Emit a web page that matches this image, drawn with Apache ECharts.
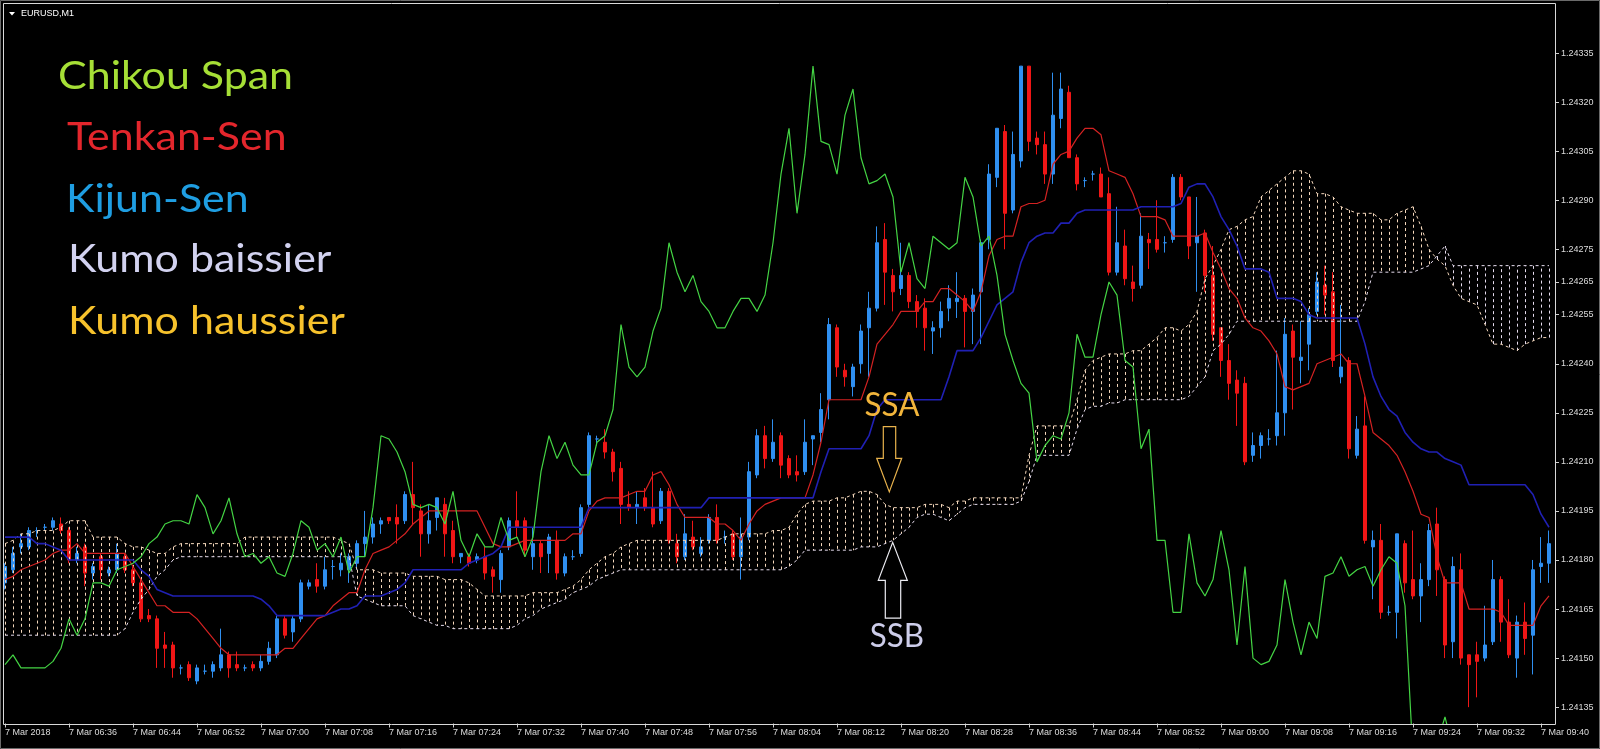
<!DOCTYPE html>
<html>
<head>
<meta charset="utf-8">
<title>EURUSD,M1 Ichimoku</title>
<script src="https://cdn.jsdelivr.net/npm/echarts@6.0.0/dist/echarts.min.js"></script>
<style>
html,body{margin:0;padding:0;background:#000;overflow:hidden}
#chart{width:1600px;height:749px}
</style>
</head>
<body>
<div id="chart"></div>
<script>
// M1 bars of 7 Mar 2018, starting 06:28
const times = [];
for (let k = 0, m = 6 * 60 + 28; k < 194; k++, m++) {
  times.push(String(Math.floor(m / 60)).padStart(2, '0') + ':' + String(m % 60).padStart(2, '0'));
}

const open = [
1.24173,1.24177,1.24184,1.24184,1.24189,1.24190,1.24190,1.24191,1.24189,1.24180,
1.24184,1.24176,1.24181,1.24176,1.24177,1.24181,1.24177,1.24173,1.24163,1.24162,
1.24154,1.24154,1.24147,1.24148,1.24143,1.24146,1.24146,1.24147,1.24151,1.24148,
1.24147,1.24148,1.24147,1.24149,1.24151,1.24162,1.24158,1.24162,1.24172,1.24174,
1.24172,1.24178,1.24177,1.24177,1.24179,1.24185,1.24187,1.24191,1.24193,1.24193,
1.24192,1.24200,1.24195,1.24188,1.24193,1.24197,1.24189,1.24181,1.24181,1.24180,
1.24181,1.24177,1.24174,1.24184,1.24192,1.24192,1.24181,1.24185,1.24182,1.24186,
1.24176,1.24181,1.24182,1.24197,1.24217,1.24216,1.24213,1.24208,1.24197,1.24196,
1.24199,1.24196,1.24192,1.24201,1.24185,1.24181,1.24187,1.24182,1.24186,1.24193,
1.24187,1.24188,1.24181,1.24187,1.24206,1.24218,1.24211,1.24218,1.24211,1.24207,
1.24207,1.24217,1.24219,1.24229,1.24251,1.24238,1.24233,1.24240,1.24251,1.24257,
1.24278,1.24267,1.24263,1.24267,1.24259,1.24257,1.24250,1.24251,1.24257,1.24259,
1.24260,1.24256,1.24262,1.24278,1.24297,1.24311,1.24287,1.24302,1.24331,1.24309,
1.24307,1.24298,1.24315,1.24323,1.24303,1.24296,1.24298,1.24298,1.24292,1.24268,
1.24276,1.24265,1.24264,1.24278,1.24278,1.24277,1.24278,1.24297,1.24291,1.24277,
1.24280,1.24267,1.24251,1.24241,1.24235,1.24234,1.24212,1.24215,1.24217,1.24218,
1.24225,1.24250,1.24241,1.24246,1.24256,1.24264,1.24262,1.24236,1.24241,1.24212,
1.24221,1.24184,1.24186,1.24164,1.24164,1.24185,1.24174,1.24169,1.24174,1.24191,
1.24174,1.24155,1.24177,1.24151,1.24151,1.24150,1.24155,1.24174,1.24161,1.24150,
1.24161,1.24157,1.24178,1.24179];

const close = [
1.24178,1.24182,1.24185,1.24189,1.24189,1.24190,1.24192,1.24189,1.24180,1.24182,
1.24176,1.24178,1.24177,1.24177,1.24182,1.24177,1.24173,1.24162,1.24162,1.24153,
1.24153,1.24147,1.24147,1.24144,1.24147,1.24146,1.24148,1.24151,1.24147,1.24147,
1.24147,1.24147,1.24149,1.24153,1.24162,1.24157,1.24162,1.24173,1.24173,1.24172,
1.24177,1.24178,1.24179,1.24181,1.24185,1.24187,1.24191,1.24192,1.24192,1.24191,
1.24200,1.24196,1.24188,1.24192,1.24199,1.24188,1.24181,1.24182,1.24179,1.24181,
1.24176,1.24175,1.24182,1.24192,1.24190,1.24183,1.24185,1.24181,1.24187,1.24176,
1.24181,1.24181,1.24196,1.24218,1.24217,1.24213,1.24207,1.24197,1.24196,1.24197,
1.24196,1.24191,1.24201,1.24186,1.24181,1.24188,1.24184,1.24184,1.24193,1.24186,
1.24187,1.24181,1.24187,1.24207,1.24218,1.24211,1.24216,1.24209,1.24206,1.24206,
1.24216,1.24218,1.24226,1.24252,1.24239,1.24236,1.24239,1.24250,1.24257,1.24277,
1.24268,1.24262,1.24267,1.24259,1.24256,1.24251,1.24251,1.24256,1.24260,1.24260,
1.24256,1.24261,1.24277,1.24298,1.24312,1.24286,1.24304,1.24331,1.24308,1.24307,
1.24298,1.24316,1.24324,1.24303,1.24295,1.24296,1.24298,1.24291,1.24268,1.24277,
1.24266,1.24263,1.24279,1.24277,1.24275,1.24277,1.24297,1.24291,1.24276,1.24279,
1.24267,1.24249,1.24241,1.24234,1.24231,1.24210,1.24215,1.24218,1.24217,1.24225,
1.24249,1.24242,1.24242,1.24255,1.24265,1.24261,1.24241,1.24239,1.24214,1.24220,
1.24186,1.24186,1.24164,1.24164,1.24188,1.24173,1.24169,1.24174,1.24189,1.24177,
1.24154,1.24178,1.24150,1.24148,1.24149,1.24154,1.24174,1.24161,1.24151,1.24161,
1.24156,1.24177,1.24179,1.24185];

const low = [
1.24171,1.24176,1.24182,1.24183,1.24187,1.24189,1.24189,1.24188,1.24179,1.24179,
1.24172,1.24174,1.24174,1.24175,1.24176,1.24176,1.24172,1.24161,1.24161,1.24147,
1.24147,1.24144,1.24145,1.24143,1.24142,1.24145,1.24144,1.24146,1.24144,1.24146,
1.24146,1.24146,1.24146,1.24148,1.24150,1.24156,1.24155,1.24161,1.24171,1.24170,
1.24171,1.24174,1.24175,1.24173,1.24177,1.24181,1.24185,1.24188,1.24191,1.24185,
1.24191,1.24191,1.24181,1.24185,1.24189,1.24181,1.24179,1.24179,1.24178,1.24179,
1.24174,1.24170,1.24170,1.24183,1.24187,1.24181,1.24177,1.24176,1.24176,1.24174,
1.24175,1.24180,1.24181,1.24196,1.24215,1.24211,1.24204,1.24191,1.24195,1.24191,
1.24195,1.24190,1.24191,1.24185,1.24179,1.24180,1.24183,1.24181,1.24185,1.24185,
1.24185,1.24180,1.24174,1.24186,1.24205,1.24208,1.24210,1.24205,1.24205,1.24204,
1.24206,1.24209,1.24216,1.24223,1.24236,1.24233,1.24230,1.24237,1.24236,1.24256,
1.24258,1.24256,1.24261,1.24257,1.24251,1.24244,1.24243,1.24248,1.24253,1.24254,
1.24245,1.24246,1.24246,1.24275,1.24294,1.24275,1.24286,1.24300,1.24305,1.24304,
1.24295,1.24295,1.24312,1.24303,1.24293,1.24294,1.24296,1.24291,1.24267,1.24267,
1.24264,1.24259,1.24263,1.24269,1.24274,1.24274,1.24277,1.24290,1.24272,1.24262,
1.24262,1.24247,1.24236,1.24229,1.24221,1.24209,1.24210,1.24211,1.24215,1.24215,
1.24218,1.24226,1.24234,1.24238,1.24255,1.24255,1.24239,1.24234,1.24211,1.24211,
1.24185,1.24168,1.24162,1.24163,1.24156,1.24170,1.24168,1.24161,1.24172,1.24169,
1.24150,1.24150,1.24148,1.24135,1.24138,1.24149,1.24154,1.24155,1.24150,1.24144,
1.24151,1.24145,1.24173,1.24173];

const high = [
1.24179,1.24184,1.24188,1.24190,1.24190,1.24191,1.24193,1.24193,1.24190,1.24184,
1.24185,1.24179,1.24182,1.24178,1.24185,1.24182,1.24178,1.24174,1.24165,1.24163,
1.24158,1.24155,1.24148,1.24149,1.24148,1.24148,1.24149,1.24159,1.24152,1.24152,
1.24148,1.24149,1.24151,1.24155,1.24163,1.24163,1.24163,1.24174,1.24174,1.24179,
1.24181,1.24180,1.24182,1.24182,1.24186,1.24195,1.24193,1.24193,1.24193,1.24197,
1.24201,1.24210,1.24197,1.24197,1.24199,1.24199,1.24192,1.24182,1.24182,1.24182,
1.24184,1.24178,1.24183,1.24193,1.24201,1.24193,1.24190,1.24186,1.24188,1.24189,
1.24182,1.24183,1.24197,1.24219,1.24218,1.24220,1.24214,1.24210,1.24201,1.24201,
1.24202,1.24207,1.24202,1.24202,1.24188,1.24194,1.24192,1.24187,1.24194,1.24197,
1.24189,1.24189,1.24193,1.24210,1.24220,1.24221,1.24223,1.24219,1.24212,1.24212,
1.24223,1.24218,1.24231,1.24254,1.24252,1.24240,1.24240,1.24252,1.24262,1.24282,
1.24283,1.24269,1.24277,1.24268,1.24261,1.24260,1.24253,1.24259,1.24264,1.24268,
1.24261,1.24263,1.24278,1.24301,1.24312,1.24313,1.24311,1.24331,1.24331,1.24311,
1.24311,1.24329,1.24329,1.24325,1.24304,1.24297,1.24299,1.24300,1.24297,1.24288,
1.24281,1.24270,1.24286,1.24280,1.24290,1.24279,1.24298,1.24298,1.24291,1.24291,
1.24281,1.24276,1.24251,1.24246,1.24238,1.24236,1.24219,1.24219,1.24220,1.24244,
1.24254,1.24252,1.24253,1.24257,1.24268,1.24270,1.24268,1.24258,1.24242,1.24224,
1.24230,1.24189,1.24191,1.24166,1.24188,1.24186,1.24189,1.24179,1.24191,1.24196,
1.24175,1.24181,1.24182,1.24151,1.24155,1.24166,1.24180,1.24175,1.24168,1.24163,
1.24167,1.24180,1.24187,1.24189];

const tenkan = [
1.24174,1.24175,1.24177,1.24178,1.24179,1.24180,1.24182,1.24183,1.24183,1.24185,
1.24182,1.24182,1.24182,1.24182,1.24182,1.24182,1.24178,1.24174,1.24170,1.24166,
1.24166,1.24164,1.24164,1.24164,1.24162,1.24159,1.24156,1.24153,1.24151,1.24151,
1.24151,1.24151,1.24151,1.24151,1.24151,1.24153,1.24153,1.24156,1.24159,1.24162,
1.24163,1.24166,1.24168,1.24170,1.24170,1.24177,1.24182,1.24183,1.24184,1.24186,
1.24188,1.24191,1.24193,1.24195,1.24195,1.24195,1.24195,1.24195,1.24195,1.24195,
1.24190,1.24185,1.24184,1.24184,1.24185,1.24186,1.24186,1.24186,1.24186,1.24186,
1.24186,1.24188,1.24188,1.24195,1.24198,1.24199,1.24199,1.24199,1.24200,1.24201,
1.24201,1.24206,1.24207,1.24203,1.24197,1.24193,1.24193,1.24193,1.24193,1.24191,
1.24191,1.24189,1.24186,1.24191,1.24195,1.24197,1.24198,1.24199,1.24199,1.24199,
1.24199,1.24206,1.24216,1.24229,1.24229,1.24229,1.24229,1.24229,1.24236,1.24246,
1.24249,1.24252,1.24256,1.24256,1.24256,1.24259,1.24259,1.24263,1.24263,1.24261,
1.24259,1.24256,1.24262,1.24273,1.24278,1.24279,1.24279,1.24288,1.24289,1.24289,
1.24290,1.24301,1.24304,1.24305,1.24309,1.24312,1.24312,1.24310,1.24299,1.24298,
1.24297,1.24292,1.24285,1.24285,1.24285,1.24284,1.24279,1.24279,1.24279,1.24279,
1.24280,1.24274,1.24269,1.24263,1.24260,1.24254,1.24251,1.24250,1.24247,1.24243,
1.24233,1.24232,1.24233,1.24234,1.24240,1.24241,1.24242,1.24243,1.24240,1.24240,
1.24230,1.24219,1.24217,1.24215,1.24212,1.24207,1.24201,1.24194,1.24193,1.24181,
1.24173,1.24173,1.24173,1.24165,1.24165,1.24165,1.24165,1.24164,1.24160,1.24160,
1.24160,1.24160,1.24166,1.24169];

const kijun = [
1.24187,1.24187,1.24187,1.24187,1.24185,1.24185,1.24184,1.24183,1.24180,1.24180,
1.24180,1.24180,1.24180,1.24180,1.24180,1.24180,1.24180,1.24177,1.24175,1.24171,
1.24170,1.24169,1.24169,1.24169,1.24169,1.24169,1.24169,1.24169,1.24169,1.24169,
1.24169,1.24169,1.24168,1.24166,1.24163,1.24163,1.24163,1.24163,1.24163,1.24163,
1.24163,1.24164,1.24165,1.24165,1.24166,1.24169,1.24169,1.24169,1.24170,1.24171,
1.24173,1.24177,1.24177,1.24177,1.24177,1.24177,1.24177,1.24177,1.24179,1.24180,
1.24181,1.24182,1.24184,1.24190,1.24190,1.24190,1.24190,1.24190,1.24190,1.24190,
1.24190,1.24190,1.24190,1.24196,1.24196,1.24196,1.24196,1.24196,1.24196,1.24196,
1.24196,1.24196,1.24196,1.24196,1.24196,1.24196,1.24196,1.24196,1.24199,1.24199,
1.24199,1.24199,1.24199,1.24199,1.24199,1.24199,1.24199,1.24199,1.24199,1.24199,
1.24199,1.24199,1.24207,1.24214,1.24214,1.24214,1.24214,1.24214,1.24218,1.24226,
1.24229,1.24229,1.24229,1.24229,1.24229,1.24229,1.24229,1.24229,1.24236,1.24244,
1.24244,1.24244,1.24248,1.24253,1.24258,1.24260,1.24262,1.24271,1.24277,1.24279,
1.24280,1.24280,1.24283,1.24283,1.24286,1.24287,1.24287,1.24287,1.24287,1.24287,
1.24287,1.24287,1.24288,1.24288,1.24288,1.24288,1.24288,1.24289,1.24294,1.24295,
1.24295,1.24291,1.24285,1.24281,1.24276,1.24269,1.24269,1.24269,1.24268,1.24260,
1.24260,1.24260,1.24259,1.24255,1.24254,1.24254,1.24254,1.24254,1.24254,1.24254,
1.24246,1.24236,1.24230,1.24226,1.24224,1.24219,1.24216,1.24214,1.24213,1.24213,
1.24211,1.24210,1.24209,1.24203,1.24203,1.24203,1.24203,1.24203,1.24203,1.24203,
1.24203,1.24200,1.24194,1.24190];

const chikou = [
1.24148,1.24151,1.24147,1.24147,1.24147,1.24147,1.24149,1.24153,1.24162,1.24157,
1.24162,1.24173,1.24173,1.24172,1.24177,1.24178,1.24179,1.24181,1.24185,1.24187,
1.24191,1.24192,1.24192,1.24191,1.24200,1.24196,1.24188,1.24192,1.24199,1.24188,
1.24181,1.24182,1.24179,1.24181,1.24176,1.24175,1.24182,1.24192,1.24190,1.24183,
1.24185,1.24181,1.24187,1.24176,1.24181,1.24181,1.24196,1.24218,1.24217,1.24213,
1.24207,1.24197,1.24196,1.24197,1.24196,1.24191,1.24201,1.24186,1.24181,1.24188,
1.24184,1.24184,1.24193,1.24186,1.24187,1.24181,1.24187,1.24207,1.24218,1.24211,
1.24216,1.24209,1.24206,1.24206,1.24216,1.24218,1.24226,1.24252,1.24239,1.24236,
1.24239,1.24250,1.24257,1.24277,1.24268,1.24262,1.24267,1.24259,1.24256,1.24251,
1.24251,1.24256,1.24260,1.24260,1.24256,1.24261,1.24277,1.24298,1.24312,1.24286,
1.24304,1.24331,1.24308,1.24307,1.24298,1.24316,1.24324,1.24303,1.24295,1.24296,
1.24298,1.24291,1.24268,1.24277,1.24266,1.24263,1.24279,1.24277,1.24275,1.24277,
1.24297,1.24291,1.24276,1.24279,1.24267,1.24249,1.24241,1.24234,1.24231,1.24210,
1.24215,1.24218,1.24217,1.24225,1.24249,1.24242,1.24242,1.24255,1.24265,1.24261,
1.24241,1.24239,1.24214,1.24220,1.24186,1.24186,1.24164,1.24164,1.24188,1.24173,
1.24169,1.24174,1.24189,1.24177,1.24154,1.24178,1.24150,1.24148,1.24149,1.24154,
1.24174,1.24161,1.24151,1.24161,1.24156,1.24175,1.24176,1.24181,1.24175,1.24177,
1.24178,1.24172,1.24177,1.24181,1.24179,1.24166,1.24120,1.24115,1.24118,1.24124,
1.24132,1.24122,1.24118];

const ssa = [
1.24185,1.24186,1.24188,1.24188,1.24189,1.24189,1.24189,1.24190,1.24192,1.24192,
1.24192,1.24187,1.24187,1.24187,1.24187,1.24185,1.24184,1.24184,1.24183,1.24182,
1.24182,1.24184,1.24185,1.24185,1.24185,1.24185,1.24185,1.24185,1.24185,1.24185,
1.24187,1.24187,1.24187,1.24187,1.24187,1.24187,1.24187,1.24187,1.24187,1.24187,
1.24187,1.24187,1.24186,1.24185,1.24177,1.24177,1.24177,1.24176,1.24176,1.24176,
1.24176,1.24175,1.24175,1.24175,1.24175,1.24174,1.24174,1.24174,1.24173,1.24171,
1.24169,1.24169,1.24169,1.24169,1.24169,1.24169,1.24170,1.24170,1.24170,1.24170,
1.24171,1.24172,1.24174,1.24177,1.24179,1.24181,1.24182,1.24184,1.24185,1.24186,
1.24186,1.24186,1.24186,1.24186,1.24186,1.24186,1.24186,1.24186,1.24186,1.24186,
1.24187,1.24188,1.24188,1.24188,1.24188,1.24188,1.24189,1.24189,1.24190,1.24194,
1.24197,1.24198,1.24198,1.24198,1.24199,1.24199,1.24200,1.24201,1.24201,1.24200,
1.24197,1.24196,1.24196,1.24196,1.24196,1.24197,1.24197,1.24197,1.24196,1.24198,
1.24198,1.24199,1.24199,1.24199,1.24199,1.24199,1.24199,1.24199,1.24212,1.24221,
1.24221,1.24221,1.24221,1.24221,1.24229,1.24238,1.24241,1.24242,1.24243,1.24243,
1.24243,1.24244,1.24244,1.24246,1.24248,1.24251,1.24251,1.24250,1.24252,1.24256,
1.24266,1.24270,1.24275,1.24281,1.24282,1.24284,1.24285,1.24291,1.24293,1.24295,
1.24297,1.24299,1.24299,1.24298,1.24292,1.24292,1.24291,1.24288,1.24287,1.24286,
1.24286,1.24286,1.24284,1.24284,1.24286,1.24287,1.24288,1.24282,1.24275,1.24272,
1.24270,1.24264,1.24260,1.24259,1.24258,1.24252,1.24246,1.24246,1.24245,1.24244,
1.24246,1.24247,1.24248,1.24248];

const ssb = [
1.24157,1.24157,1.24157,1.24157,1.24157,1.24157,1.24157,1.24157,1.24157,1.24157,
1.24157,1.24157,1.24157,1.24157,1.24157,1.24159,1.24164,1.24168,1.24171,1.24175,
1.24177,1.24180,1.24181,1.24181,1.24181,1.24181,1.24181,1.24181,1.24181,1.24181,
1.24181,1.24181,1.24181,1.24181,1.24181,1.24181,1.24181,1.24181,1.24181,1.24181,
1.24181,1.24181,1.24181,1.24181,1.24169,1.24168,1.24167,1.24166,1.24166,1.24166,
1.24166,1.24163,1.24162,1.24161,1.24160,1.24160,1.24159,1.24159,1.24159,1.24159,
1.24159,1.24159,1.24159,1.24159,1.24160,1.24162,1.24163,1.24165,1.24166,1.24167,
1.24168,1.24170,1.24171,1.24172,1.24174,1.24175,1.24176,1.24177,1.24177,1.24177,
1.24177,1.24177,1.24177,1.24177,1.24177,1.24177,1.24177,1.24177,1.24177,1.24177,
1.24177,1.24177,1.24177,1.24177,1.24177,1.24177,1.24177,1.24177,1.24178,1.24180,
1.24183,1.24183,1.24183,1.24183,1.24183,1.24183,1.24183,1.24184,1.24184,1.24184,
1.24185,1.24186,1.24188,1.24190,1.24193,1.24194,1.24194,1.24193,1.24192,1.24194,
1.24196,1.24197,1.24197,1.24197,1.24197,1.24197,1.24197,1.24198,1.24204,1.24212,
1.24212,1.24212,1.24212,1.24212,1.24220,1.24226,1.24227,1.24227,1.24228,1.24228,
1.24229,1.24229,1.24229,1.24229,1.24229,1.24229,1.24229,1.24229,1.24230,1.24233,
1.24236,1.24244,1.24246,1.24249,1.24253,1.24253,1.24253,1.24253,1.24253,1.24253,
1.24253,1.24253,1.24253,1.24253,1.24253,1.24253,1.24253,1.24253,1.24253,1.24253,
1.24259,1.24268,1.24268,1.24268,1.24268,1.24268,1.24268,1.24269,1.24270,1.24273,
1.24276,1.24270,1.24270,1.24270,1.24270,1.24270,1.24270,1.24270,1.24270,1.24270,
1.24270,1.24270,1.24270,1.24270];

const priceTicks = [1.24335,1.24320,1.24305,1.24290,1.24275,1.24265,1.24255,1.24240,1.24225,1.24210,1.24195,1.24180,1.24165,1.24150,1.24135];
const legendNames = ['Chikou Span','Tenkan-Sen','Kijun-Sen','Kumo baissier','Kumo haussier'];
const legendColors = ['#a6df36','#e3262c','#1f9ee2','#d2d2f0','#f7c22c'];

const BULL = '#2f8ff0', BEAR = '#f01616';
const SANDY = '#f5d8bc', THISTLE = '#e6dcee';

const candles = open.map((o, i) => [o, close[i], low[i], high[i]]);
const kumo = ssa.map((a, i) => [i, a, ssb[i]]);

const legendX = [58, 67, 66, 68, 68];
const legendY = [77, 138, 200, 260, 322];
const graphics = [
  {type:'rect', shape:{x:0.5, y:0.5, width:1599, height:748}, style:{fill:null, stroke:'#6a6a6a', lineWidth:1}, silent:true, z:100},
  {type:'rect', shape:{x:3.5, y:3.5, width:1552, height:721}, style:{fill:null, stroke:'#d8d8d8', lineWidth:1}, silent:true, z:100},
  {type:'polygon', shape:{points:[[9,12],[15,12],[12,15.5]]}, style:{fill:'#ffffff'}, silent:true, z:100},
  {type:'text', x:21, y:14, style:{text:'EURUSD,M1', fill:'#ffffff', fontSize:9, fontFamily:'Liberation Sans', verticalAlign:'middle'}, silent:true, z:100},
  {type:'text', x:892, y:405, scaleX:0.95, style:{text:'SSA', fill:'#f2b53b', fontSize:33, fontFamily:'Lato', align:'center', verticalAlign:'middle'}, silent:true, z:100},
  {type:'text', x:897, y:636, scaleX:0.95, style:{text:'SSB', fill:'#cdcdea', fontSize:33, fontFamily:'Lato', align:'center', verticalAlign:'middle'}, silent:true, z:100},
  {type:'polygon', shape:{points:[[883.3,426.7],[895.7,426.7],[895.7,458.3],[901.7,458.3],[889.3,491.9],[876.7,458.3],[883.3,458.3]]},
    style:{fill:null, stroke:'#e8b24c', lineWidth:1.2}, silent:true, z:100},
  {type:'polygon', shape:{points:[[892.7,542.4],[907.3,580.3],[900.7,580.3],[900.7,618.2],[885.3,618.2],[885.3,580.3],[878.3,580.3]]},
    style:{fill:null, stroke:'#ececf2', lineWidth:1.2}, silent:true, z:100}
];
legendNames.forEach((t, k) => {
  graphics.push({type:'text', x:legendX[k], y:legendY[k], scaleX:1.13,
    style:{text:t, fill:legendColors[k], fontSize:38, fontFamily:'Lato', verticalAlign:'middle'}, silent:true, z:100});
});

const chart = echarts.init(document.getElementById('chart'), null, {renderer:'canvas'});
chart.setOption({
  backgroundColor:'#000000',
  animation:false,
  grid:{left:1, top:4, width:1552, height:719.5, show:false},
  xAxis:{
    type:'category', data:times, boundaryGap:true,
    axisLine:{show:false},
    axisTick:{show:true, interval:7, alignWithLabel:true, length:4, lineStyle:{color:'#cfcfcf'}},
    axisLabel:{interval:7, color:'#dcdcdc', fontSize:9, fontFamily:'Liberation Sans', align:'left', margin:5,
      formatter:(v, i) => i === 0 ? '7 Mar 2018' : '7 Mar ' + v},
    splitLine:{show:false}
  },
  yAxis:{
    type:'value', position:'right', min:1.2413, max:1.2435, offset:2,
    axisLine:{show:false}, splitLine:{show:false},
    axisTick:{show:true, length:4, customValues:priceTicks, lineStyle:{color:'#cfcfcf'}},
    axisLabel:{customValues:priceTicks, color:'#dcdcdc', fontSize:9, fontFamily:'Liberation Sans', margin:6,
      formatter:v => v.toFixed(5)}
  },
  series:[
    {type:'candlestick', name:'EURUSD', data:candles, barWidth:4, z:2,
      itemStyle:{color:BULL, color0:BEAR, borderColor:BULL, borderColor0:BEAR, borderColorDoji:BULL, borderWidth:1}},
    {type:'custom', name:'Kumo', data:kumo, z:3, silent:true, encode:{x:0, y:[1,2]},
      renderItem:(params, api) => {
        const i = api.value(0), a = api.value(1), b = api.value(2);
        const p1 = api.coord([i, a]), p2 = api.coord([i, b]);
        const x = Math.round(p1[0]) + 0.5;
        return {type:'line', shape:{x1:x, y1:p1[1], x2:x, y2:p2[1]},
          style:{stroke: a >= b ? SANDY : THISTLE, lineWidth:1, lineDash:[3,3]}};
      }},
    {type:'line', name:'Senkou Span A', data:ssa, symbol:'none', z:4, silent:true,
      lineStyle:{color:SANDY, width:1, type:[3,3]}},
    {type:'line', name:'Senkou Span B', data:ssb, symbol:'none', z:4, silent:true,
      lineStyle:{color:THISTLE, width:1, type:[3,3]}},
    {type:'line', name:'Tenkan-Sen', data:tenkan, symbol:'none', z:5, silent:true,
      lineStyle:{color:'#d42222', width:1.2}},
    {type:'line', name:'Kijun-Sen', data:kijun, symbol:'none', z:5, silent:true,
      lineStyle:{color:'#2020b4', width:1.6}},
    {type:'line', name:'Chikou Span', data:chikou, symbol:'none', z:5, silent:true,
      lineStyle:{color:'#44d444', width:1.2}}
  ],
  graphic:graphics
});
</script>
</body>
</html>
